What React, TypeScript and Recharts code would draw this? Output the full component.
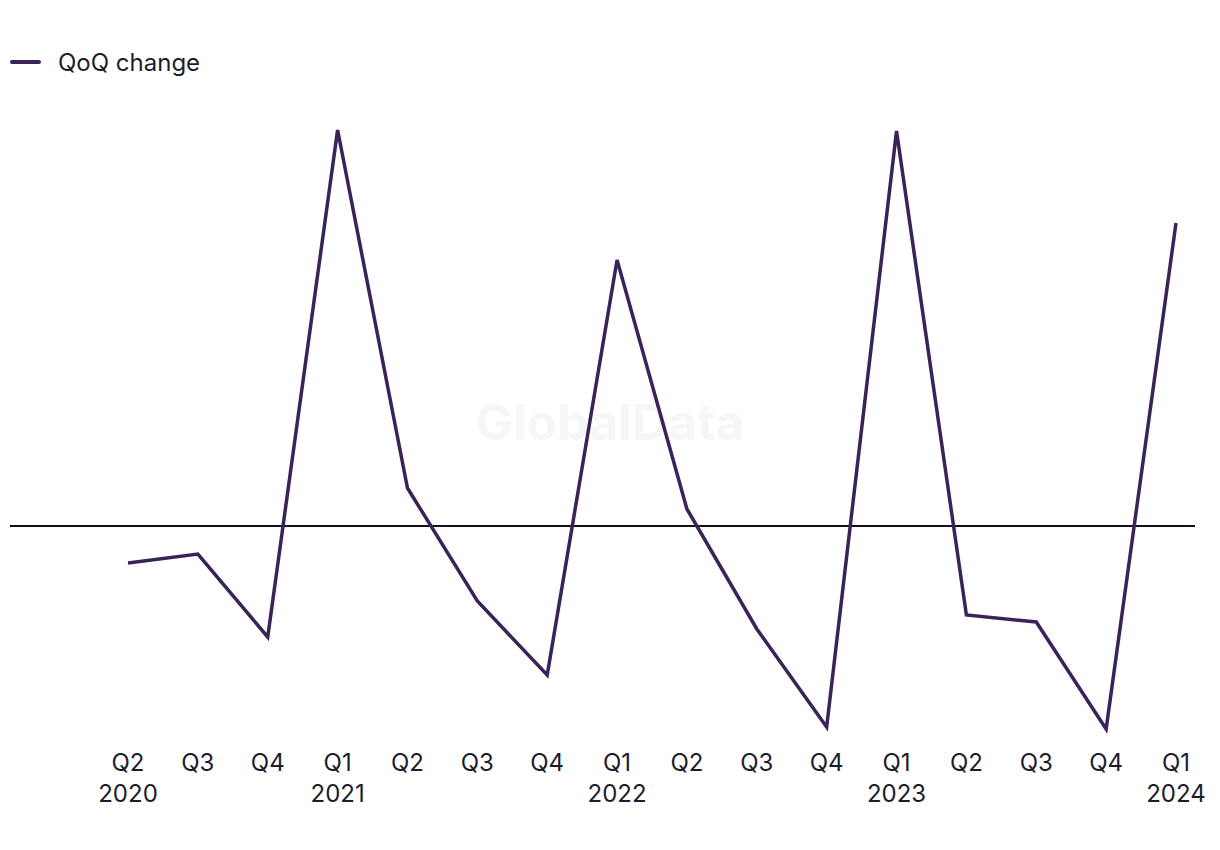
import React from 'react';
import { LineChart, Line, XAxis, YAxis, ReferenceLine } from 'recharts';

const quarters = ['Q2', 'Q3', 'Q4', 'Q1', 'Q2', 'Q3', 'Q4', 'Q1', 'Q2', 'Q3', 'Q4', 'Q1', 'Q2', 'Q3', 'Q4', 'Q1'];
const years = ['2020', '', '', '2021', '', '', '', '2022', '', '', '', '2023', '', '', '', '2024'];
const qoqChange = [-3.7, -2.8, -11.1, 39.6, 3.8, -7.5, -14.9, 26.6, 1.7, -10.3, -20.1, 39.5, -8.9, -9.6, -20.3, 30.3];

const data = quarters.map((q, i) => ({ idx: i, value: qoqChange[i] }));
const tickIdx = quarters.map((_, i) => i);

const FONT = 'Inter, "Noto Sans", sans-serif';
const TEXT = '#1c1c2e';
const LINE = '#3a2358';

function QuarterTick(props: any) {
  const { x, y, payload } = props;
  const i = Math.round(Number(payload.value));
  const q = quarters[i];
  const yr = years[i];
  return (
    <g>
      <text x={x} y={y} dy={27} textAnchor="middle" fontSize={24} fontFamily={FONT} fill={TEXT}>{q}</text>
      {yr && (
        <text x={x} y={y} dy={58} textAnchor="middle" fontSize={24} fontFamily={FONT} fill={TEXT}>{yr}</text>
      )}
    </g>
  );
}

export default function App() {
  return (
    <div style={{ position: 'absolute', left: 0, top: 0, width: 1220, height: 850, background: '#fff', fontFamily: FONT }}>
      <div style={{ position: 'absolute', left: 0, width: 1220, top: 392, textAlign: 'center', fontSize: 50, fontWeight: 700, color: '#f6f6f6' }}>
        GlobalData
      </div>
      <div style={{ position: 'absolute', left: 10, top: 47, display: 'flex', alignItems: 'center', height: 30 }}>
        <div style={{ width: 31, height: 4, borderRadius: 2, background: LINE }} />
        <span style={{ marginLeft: 17, fontSize: 24, color: TEXT }}>QoQ change</span>
      </div>
      <div style={{ position: 'absolute', left: 0, top: 0 }}>
        <LineChart width={1220} height={850} data={data} margin={{ top: 76, right: 25, bottom: 0, left: 10 }}>
          <XAxis
            dataKey="idx"
            type="number"
            domain={[-1.689, 15.272]}
            allowDataOverflow
            ticks={tickIdx}
            interval={0}
            axisLine={false}
            tickLine={false}
            height={114}
            tick={<QuarterTick />}
          />
          <YAxis hide domain={[-21, 45]} allowDataOverflow />
          <ReferenceLine y={0} stroke="#10101f" strokeWidth={2} />
          <Line
            type="linear"
            dataKey="value"
            stroke={LINE}
            strokeWidth={3.5}
            dot={false}
            activeDot={false}
            isAnimationActive={false}
          />
        </LineChart>
      </div>
    </div>
  );
}
